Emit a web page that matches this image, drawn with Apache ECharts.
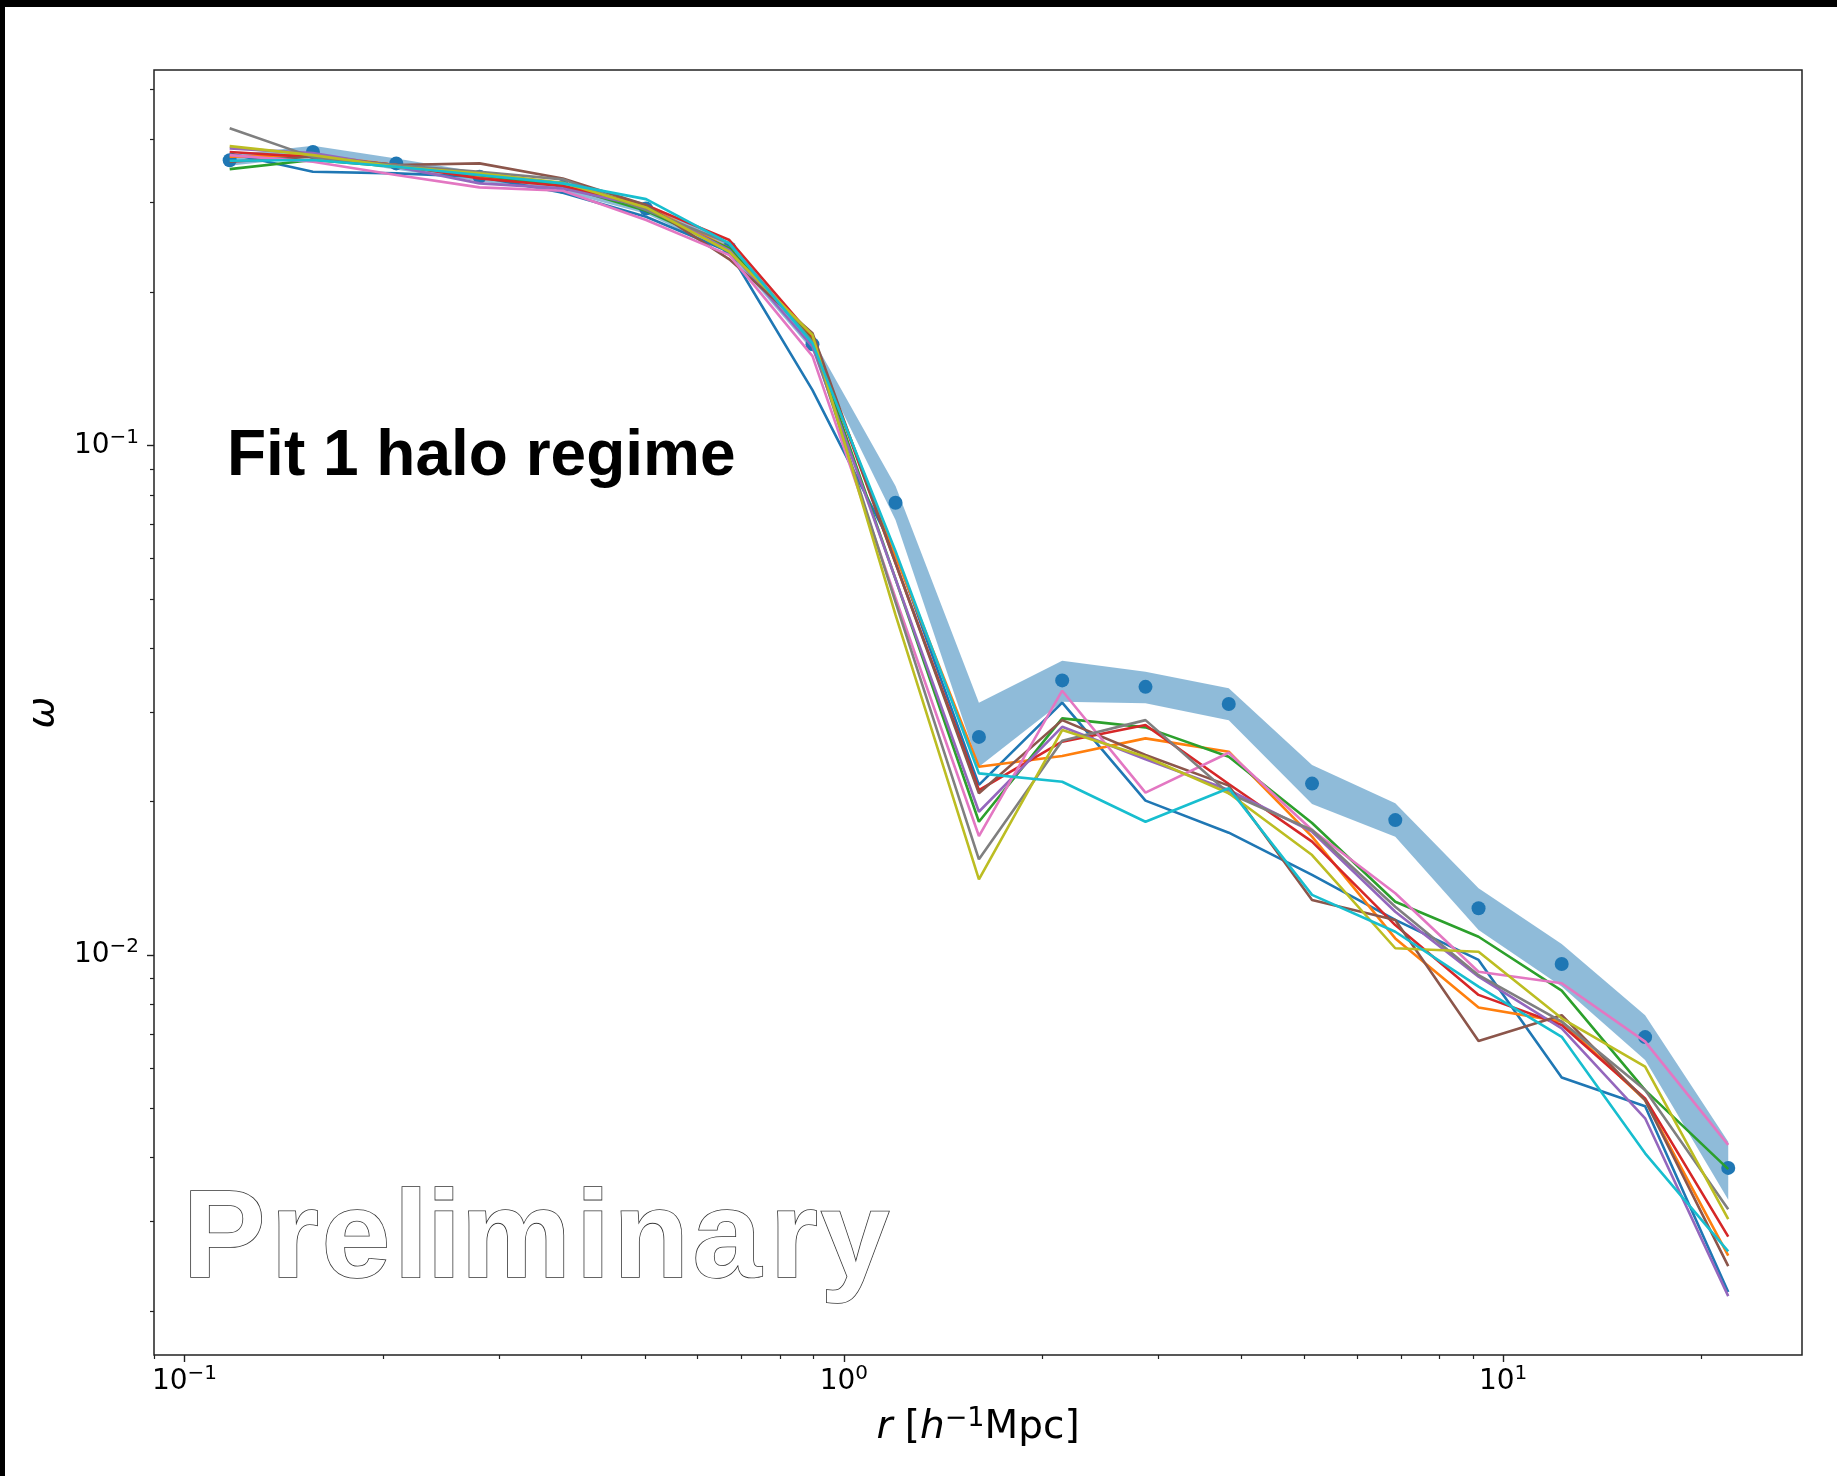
<!DOCTYPE html>
<html>
<head>
<meta charset="utf-8">
<script src="https://cdn.jsdelivr.net/npm/echarts@6/dist/echarts.min.js"></script>
<style>
  html, body { margin: 0; padding: 0; background: #fff; }
  #chart { width: 1837px; height: 1476px; }
</style>
</head>
<body>
<div id="chart"></div>
<script>
// r bins [h^-1 Mpc]
var rVals = [0.1171, 0.1566, 0.2095, 0.2802, 0.3748, 0.5013, 0.6705, 0.8964, 1.198, 1.603,
             2.144, 2.868, 3.836, 5.131, 6.862, 9.178, 12.27, 16.42, 21.95];

// measured w(r) with its error band
var wData  = [0.363, 0.377, 0.358, 0.337, 0.322, 0.292, 0.244, 0.158, 0.0772, 0.0268,
              0.0346, 0.0336, 0.0311, 0.0217, 0.0184, 0.01235, 0.0096, 0.0069, 0.00382];
var wUpper = [0.372, 0.3876, 0.366, 0.344, 0.329, 0.299, 0.250, 0.1625, 0.0833, 0.03128,
              0.03781, 0.03597, 0.03338, 0.0236, 0.01985, 0.01352, 0.01051, 0.00762, 0.0043];
var wLower = [0.354, 0.3688, 0.348, 0.330, 0.315, 0.285, 0.238, 0.1535, 0.0714, 0.02342,
              0.03143, 0.03119, 0.02891, 0.01979, 0.01707, 0.0112, 0.00867, 0.00622, 0.00331];

// model curves (tab10 order)
var model0 = [0.3745, 0.3447, 0.3422, 0.337, 0.3134, 0.2812, 0.2401, 0.1285, 0.0615, 0.02157, 0.03128, 0.02009, 0.01738, 0.01436, 0.01172, 0.00978, 0.00575, 0.00505, 0.00218];
var model1 = [0.3688, 0.3716, 0.3553, 0.338, 0.3246, 0.2952, 0.2438, 0.1611, 0.0608, 0.02342, 0.02459, 0.02662, 0.02506, 0.01707, 0.01078, 0.00789, 0.0074, 0.00519, 0.00257];
var model2 = [0.3489, 0.3634, 0.3526, 0.3396, 0.3231, 0.2889, 0.2438, 0.1611, 0.0547, 0.01826, 0.02914, 0.02798, 0.0245, 0.01816, 0.01272, 0.01086, 0.00851, 0.00543, 0.0038];
var model3 = [0.377, 0.3683, 0.3553, 0.3345, 0.3231, 0.2965, 0.2532, 0.1635, 0.0588, 0.02108, 0.02622, 0.02827, 0.02166, 0.01669, 0.01145, 0.00835, 0.00729, 0.00523, 0.0028];
var model4 = [0.3831, 0.375, 0.3526, 0.3271, 0.3197, 0.2942, 0.2419, 0.1563, 0.0547, 0.01911, 0.02805, 0.02422, 0.02108, 0.01746, 0.01216, 0.00907, 0.00718, 0.00478, 0.00214];
var model5 = [0.3606, 0.3688, 0.3553, 0.358, 0.3345, 0.2965, 0.232, 0.1661, 0.0588, 0.02077, 0.02891, 0.02469, 0.0215, 0.01282, 0.01172, 0.00678, 0.00762, 0.00519, 0.00245];
var model6 = [0.3716, 0.3606, 0.3396, 0.3212, 0.3163, 0.2771, 0.2365, 0.1498, 0.0502, 0.01712, 0.03302, 0.02083, 0.02495, 0.01759, 0.01322, 0.00927, 0.0088, 0.00676, 0.00424];
var model7 = [0.4195, 0.3683, 0.3553, 0.3447, 0.3331, 0.2899, 0.2494, 0.1598, 0.0493, 0.01541, 0.02634, 0.02891, 0.02077, 0.01759, 0.01244, 0.00913, 0.0074, 0.00543, 0.00317];
var model8 = [0.3871, 0.3716, 0.3526, 0.3422, 0.328, 0.2934, 0.2401, 0.1648, 0.0465, 0.01408, 0.02764, 0.0245, 0.02077, 0.01571, 0.01031, 0.01015, 0.00751, 0.00604, 0.00303];
var model9 = [0.3622, 0.3634, 0.3526, 0.3396, 0.3271, 0.3046, 0.2494, 0.1587, 0.062, 0.02273, 0.02188, 0.01826, 0.02125, 0.01312, 0.01111, 0.00867, 0.00691, 0.00408, 0.00262];
var models = [model0, model1, model2, model3, model4, model5, model6, model7, model8, model9];
var tab10 = ['#1f77b4', '#ff7f0e', '#2ca02c', '#d62728', '#9467bd', '#8c564b', '#e377c2', '#7f7f7f', '#bcbd22', '#17becf'];

// tick positions
var xMajor = [0.1, 1, 10];
var xMinor = [0.09, 0.2, 0.3, 0.4, 0.5, 0.6, 0.7, 0.8, 0.9, 2, 3, 4, 5, 6, 7, 8, 9, 20];
var yMajor = [0.01, 0.1];
var yMinor = [0.002, 0.003, 0.004, 0.005, 0.006, 0.007, 0.008, 0.009,
              0.02, 0.03, 0.04, 0.05, 0.06, 0.07, 0.08, 0.09, 0.2, 0.3, 0.4, 0.5];

// watermark letters and their centres (px)
var wmChars = ['P', 'r', 'e', 'l', 'i', 'm', 'i', 'n', 'a', 'r', 'y'];
var wmX = [224, 295, 356, 411, 444, 516, 593, 651, 727, 794, 855];

var FONT = 'DejaVu Sans';
var tickRich = {
    b: { fontFamily: FONT, fontSize: 28, lineHeight: 36, color: '#000' },
    s: { fontFamily: FONT, fontSize: 20, lineHeight: 22, color: '#000', verticalAlign: 'top' }
};
function powLabel(v) {
    var e = Math.round(Math.log10(v));
    return '{b|10}{s|' + (e < 0 ? '\u2212' + (-e) : e) + '}';
}
function pairs(ys) {
    return rVals.map(function (r, i) { return [r, ys[i]]; });
}

var chart = echarts.init(document.getElementById('chart'));

var series = [];
// error band
series.push({
    type: 'custom',
    silent: true,
    z: 1,
    data: pairs(wData),
    renderItem: function (params, api) {
        if (params.dataIndex !== 0) return;
        var pts = [];
        for (var i = 0; i < rVals.length; i++) pts.push(api.coord([rVals[i], wUpper[i]]));
        for (var j = rVals.length - 1; j >= 0; j--) pts.push(api.coord([rVals[j], wLower[j]]));
        return { type: 'polygon', shape: { points: pts }, style: { fill: 'rgba(31,119,180,0.5)' } };
    }
});
// data points
series.push({
    type: 'scatter',
    z: 2,
    symbolSize: 14,
    itemStyle: { color: '#1f77b4', opacity: 1 },
    data: pairs(wData)
});
// models
models.forEach(function (m, i) {
    series.push({
        type: 'line',
        z: 3,
        showSymbol: false,
        symbol: 'none',
        lineStyle: { color: tab10[i], width: 2.6 },
        data: pairs(m)
    });
});

var graphics = [
    // frame bars of the screenshot
    { type: 'rect', left: 0, top: 0, shape: { width: 1837, height: 7 }, style: { fill: '#000' }, silent: true },
    { type: 'rect', left: 0, top: 0, shape: { width: 5, height: 1476 }, style: { fill: '#000' }, silent: true },
    {
        type: 'text', x: 227, y: 457, z: 10,
        style: {
            text: 'Fit 1 halo regime', fill: '#000',
            font: 'bold 64px "Liberation Sans", Arial, sans-serif',
            textAlign: 'left', textVerticalAlign: 'middle'
        }
    }
];
wmChars.forEach(function (c, i) {
    graphics.push({
        type: 'text', x: wmX[i], y: 1243, z: 10,
        style: {
            text: c, fill: '#fff', stroke: '#333', lineWidth: 1.6,
            font: 'bold 124px "Liberation Sans", Arial, sans-serif',
            textAlign: 'center', textVerticalAlign: 'middle'
        }
    });
});

var option = {
    animation: false,
    backgroundColor: '#fff',
    grid: {
        left: 154, top: 70, width: 1648, height: 1285,
        show: true, borderColor: '#222', borderWidth: 1.5,
        backgroundColor: 'transparent',
        outerBoundsMode: 'none'
    },
    xAxis: [{
        type: 'log', logBase: 10, min: 0.0899, max: 28.4, position: 'bottom',
        axisLine: { show: false },
        splitLine: { show: false },
        axisTick: { show: true, length: 7, lineStyle: { color: '#222', width: 1.4 }, customValues: xMajor },
        axisLabel: { margin: 9, customValues: xMajor, formatter: powLabel, rich: tickRich },
        name: '{i|r}{n| [}{i|h}{s|\u22121}{n|Mpc]}',
        nameLocation: 'middle',
        nameGap: 50,
        nameMoveOverlap: false,
        nameTextStyle: {
            fontFamily: FONT, fontSize: 39, color: '#000',
            rich: {
                i: { fontFamily: FONT, fontStyle: 'italic', fontSize: 39, lineHeight: 46, color: '#000' },
                n: { fontFamily: FONT, fontSize: 39, lineHeight: 46, color: '#000' },
                s: { fontFamily: FONT, fontSize: 27, lineHeight: 30, color: '#000', verticalAlign: 'top' }
            }
        }
    }, {
        type: 'log', logBase: 10, min: 0.0899, max: 28.4, position: 'bottom',
        axisLine: { show: false },
        splitLine: { show: false },
        axisLabel: { show: false },
        axisTick: { show: true, length: 4, lineStyle: { color: '#222', width: 1.2 }, customValues: xMinor }
    }],
    yAxis: [{
        type: 'log', logBase: 10, min: 0.00164, max: 0.546, position: 'left',
        axisLine: { show: false },
        splitLine: { show: false },
        axisTick: { show: true, length: 7, lineStyle: { color: '#222', width: 1.4 }, customValues: yMajor },
        axisLabel: { margin: 15, customValues: yMajor, formatter: powLabel, rich: tickRich },
        name: '\u03c9',
        nameLocation: 'middle',
        nameRotate: 90,
        nameGap: 88,
        nameMoveOverlap: false,
        nameTextStyle: { fontFamily: FONT, fontStyle: 'italic', fontSize: 38, lineHeight: 46, color: '#000' }
    }, {
        type: 'log', logBase: 10, min: 0.00164, max: 0.546, position: 'left',
        axisLine: { show: false },
        splitLine: { show: false },
        axisLabel: { show: false },
        axisTick: { show: true, length: 4, lineStyle: { color: '#222', width: 1.2 }, customValues: yMinor }
    }],
    graphic: graphics,
    series: series
};
chart.setOption(option);
</script>
</body>
</html>
